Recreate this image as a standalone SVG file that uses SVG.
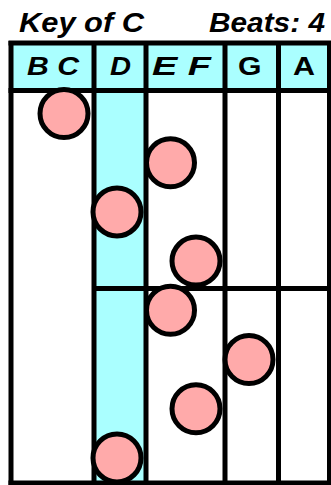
<svg xmlns="http://www.w3.org/2000/svg" width="331" height="485" viewBox="0 0 331 485">
<style>
.t{font-family:"Liberation Sans",Arial,sans-serif;font-weight:bold;font-style:italic;font-size:26px;fill:#000}
.h{font-size:28px}
.u{font-style:normal}
.g{stroke:#000;stroke-width:5;fill:none}
.n{fill:#FFAAAA;stroke:#000;stroke-width:5}
</style>
<rect width="331" height="485" fill="#fff"/>
<g id="title">
<text class="t h" x="19" y="32" textLength="125" lengthAdjust="spacingAndGlyphs">Key of C</text>
<text class="t h" x="209" y="32" textLength="116" lengthAdjust="spacingAndGlyphs">Beats: 4</text>
</g>
<g id="fills">
<rect x="11" y="43" width="319" height="48" fill="#AAFFFF"/>
<rect x="94" y="91" width="52" height="392" fill="#AAFFFF"/>
</g>
<g id="grid" class="g">
<line x1="8.5" y1="43" x2="331" y2="43"/>
<line x1="8.5" y1="90.5" x2="331" y2="90.5"/>
<line x1="92" y1="288.5" x2="331" y2="288.5"/>
<line x1="8.5" y1="483" x2="331" y2="483"/>
<line x1="11" y1="41" x2="11" y2="485"/>
<line x1="94" y1="41" x2="94" y2="485"/>
<line x1="146" y1="41" x2="146" y2="485"/>
<line x1="225" y1="41" x2="225" y2="485"/>
<line x1="278.5" y1="41" x2="278.5" y2="485"/>
<line x1="329.5" y1="41" x2="329.5" y2="485"/>
</g>
<g id="header">
<text class="t" x="27" y="74.8" textLength="52" lengthAdjust="spacingAndGlyphs">B C</text>
<text class="t" x="110" y="74.8" textLength="21" lengthAdjust="spacingAndGlyphs">D</text>
<text class="t" x="152" y="74.8" textLength="59" lengthAdjust="spacingAndGlyphs">E  F</text>
<text class="t u" x="238" y="74.8" textLength="23.5" lengthAdjust="spacingAndGlyphs">G</text>
<text class="t u" x="293" y="74.8" textLength="22" lengthAdjust="spacingAndGlyphs">A</text>
</g>
<g id="notes">
<circle id="n1" class="n" cx="64" cy="113.5" r="24"/>
<circle id="n2" class="n" cx="170.5" cy="162.7" r="24"/>
<circle id="n3" class="n" cx="117" cy="211.9" r="24"/>
<circle id="n4" class="n" cx="196" cy="261.1" r="24"/>
<circle id="n5" class="n" cx="170.5" cy="310.3" r="24"/>
<circle id="n6" class="n" cx="249" cy="359.5" r="24"/>
<circle id="n7" class="n" cx="196" cy="408.7" r="24"/>
<circle id="n8" class="n" cx="117" cy="457.9" r="24"/>
</g>
</svg>
